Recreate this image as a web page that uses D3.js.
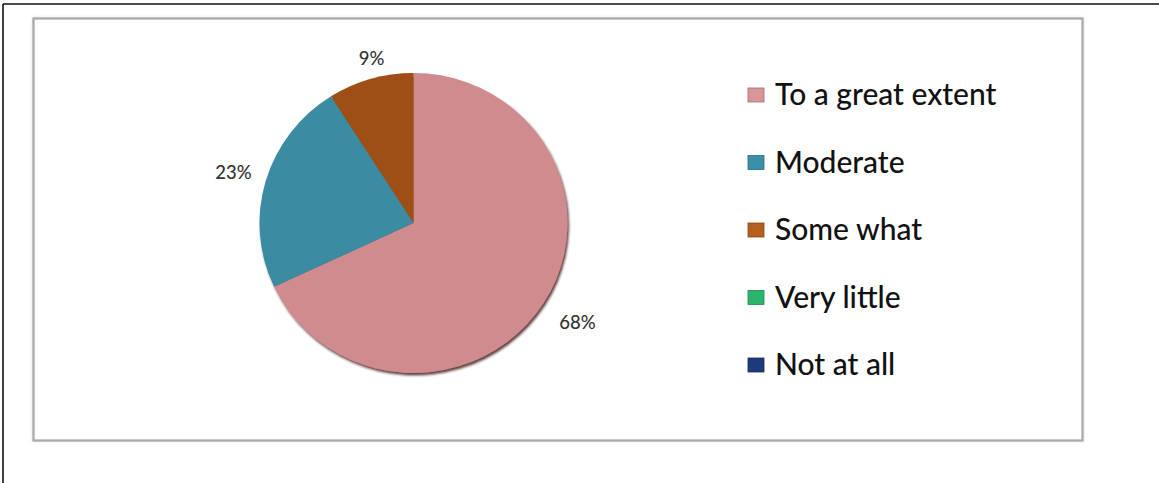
<!DOCTYPE html>
<html><head><meta charset="utf-8">
<script src="https://cdn.jsdelivr.net/npm/d3@7"></script>
<style>html,body{margin:0;padding:0;background:#fff;}svg{display:block;}</style>
</head><body>
<svg id="c" width="1159" height="483"></svg>
<script>
const categories = ["To a great extent","Moderate","Some what","Very little","Not at all"];
const values = [68, 23, 9, 0, 0];
const labels = ["68%","23%","9%","",""];
const sliceColors = ["#cf8b8e","#3b8ba2","#9d5016","#2fb06a","#1d3878"];
const legendColors = ["#d99597","#3a90a8","#b5601c","#2cb46a","#1f3a7a"];

const svg = d3.select("#c");
const W = 1159, H = 483;

// outer frame lines (top & left)
svg.append("line").attr("x1",3).attr("y1",4).attr("x2",W).attr("y2",4).attr("stroke","#111").attr("stroke-width",1.6);
svg.append("line").attr("x1",3).attr("y1",4).attr("x2",3).attr("y2",H).attr("stroke","#111").attr("stroke-width",1.6);

const defs = svg.append("defs");
const f = defs.append("filter").attr("id","sh").attr("x","-10%").attr("y","-10%").attr("width","120%").attr("height","120%");
f.append("feDropShadow").attr("dx",1.5).attr("dy",2.5).attr("stdDeviation",1.2).attr("flood-color","#4a1e1e").attr("flood-opacity",0.85);
const fb = defs.append("filter").attr("id","bs").attr("x","-5%").attr("y","-5%").attr("width","110%").attr("height","110%");
fb.append("feDropShadow").attr("dx",0).attr("dy",0).attr("stdDeviation",1.5).attr("flood-color","#bbb").attr("flood-opacity",0.5);

// inner chart box
svg.append("rect").attr("x",33.5).attr("y",18.5).attr("width",1049).attr("height",422)
  .attr("fill","#fff").attr("stroke","#a9a9a9").attr("stroke-width",2.2).attr("filter","url(#bs)");

// pie
const cx = 413.5, cy = 223, r = 154, ry = 150;
const pie = d3.pie().sort(null).value(d => d)(values);
const arc = d3.arc().innerRadius(0).outerRadius(r);
const g = svg.append("g").attr("transform",`translate(${cx},${cy}) scale(1,${ry/r})`).attr("filter","url(#sh)");
g.selectAll("path").data(pie).join("path")
  .attr("d", arc).attr("fill",(d,i)=>sliceColors[i]);

// labels
const lg = svg.append("g").attr("transform",`translate(${cx},${cy})`);
const labelPos = [[164,106],[-180,-44],[-42,-158]];
pie.forEach((d,i)=>{
  if(!labels[i]) return;
  lg.append("text").attr("x",labelPos[i][0]).attr("y",labelPos[i][1])
    .attr("text-anchor","middle").attr("font-family","Lato, 'Open Sans', sans-serif")
    .attr("font-size",18.5).attr("font-weight",500).attr("fill","#333").text(labels[i]);
});

// legend
const leg = svg.append("g");
const rowY = d3.scalePoint().domain(categories).range([95, 365]);
categories.forEach((c,i)=>{
  const y = rowY(c);
  leg.append("rect").attr("x",748).attr("y",y-7).attr("width",16).attr("height",14)
    .attr("fill",legendColors[i]).attr("stroke",d3.color(legendColors[i]).darker(0.8)).attr("stroke-width",0.8);
  leg.append("text").attr("x",775).attr("y",y+10).attr("font-family","Lato, 'Open Sans', sans-serif")
    .attr("font-size",30).attr("font-weight",500).attr("fill","#111").text(c);
});
</script>
</body></html>
